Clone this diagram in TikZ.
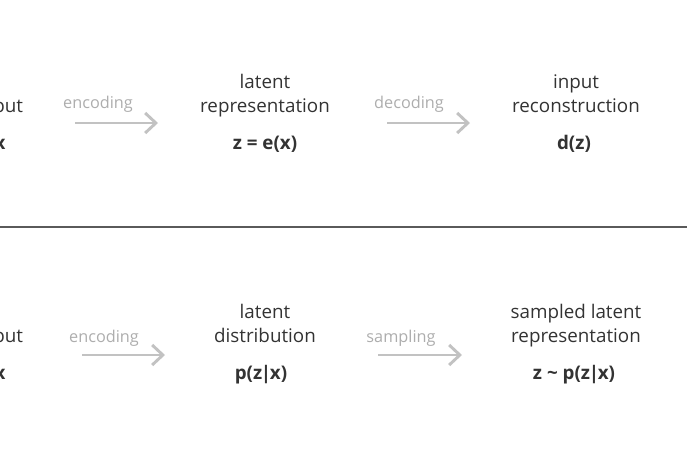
\documentclass[tikz,border=0pt]{standalone}
\usepackage{fontspec}
\setmainfont{Open Sans}
\usetikzlibrary{arrows.meta}
\definecolor{ink}{HTML}{333333}
\definecolor{faint}{HTML}{ADADAD}
\definecolor{shaft}{HTML}{C2C2C2}
\definecolor{rule}{HTML}{5A5A5A}

\begin{document}
\begin{tikzpicture}[x=0.75pt,y=-0.75pt,
  word/.style={text=ink,anchor=base,inner sep=0pt,font=\fontsize{14.1}{17}\selectfont},
  expr/.style={word,font=\fontsize{14.1}{17}\selectfont\bfseries},
  verb/.style={text=faint,anchor=base,inner sep=0pt,font=\fontsize{12.2}{15}\selectfont},
  flow/.style={draw=shaft,line width=2.2pt,-{Straight Barb[length=8pt,width=15pt]}}]
\clip (0,0) rectangle (687,455);

% autoencoder
\node[word] (inA) at (0,112) {input};
\node[expr] (xA) at (0,149) {x};
\node[word] (latA) at (265,88) {latent};
\node[word] (repA) at (265,112) {representation};
\node[expr] (zA) at (265,149) {z = e(x)};
\node[word] (recA) at (576,88) {input};
\node[word] (recB) at (576,112) {reconstruction};
\node[expr] (dA) at (574,149) {d(z)};
\node[verb] (encA) at (98,108) {encoding};
\node[verb] (decA) at (409,108) {decoding};
\coordinate (e1) at (75,123);
\coordinate (e2) at (158,123);
\coordinate (d1) at (387,123);
\coordinate (d2) at (470,123);
\path[flow] (e1) -- (e2);
\path[flow] (d1) -- (d2);

% divider
\coordinate (l1) at (0,227);
\coordinate (l2) at (687,227);
\draw[rule,line width=1.5pt] (l1) -- (l2);

% variational autoencoder
\node[word] (inB) at (0,342) {input};
\node[expr] (xB) at (0,379) {x};
\node[word] (latB) at (265,318) {latent};
\node[word] (disB) at (265,342) {distribution};
\node[expr] (pB) at (261,379) {p(z\kern-1pt|\kern-1pt x)};
\node[expr] (zB) at (574,379) {z \textasciitilde{} p(z\kern-1pt|\kern-1pt x)};
\node[word] (smpB) at (576,318) {sampled latent};
\node[word] (repB) at (576,342) {representation};
\node[verb] (encB) at (104,342) {encoding};
\node[verb] (samB) at (401,342) {sampling};
\coordinate (f1) at (82,355);
\coordinate (f2) at (165,355);
\coordinate (s1) at (378,355);
\coordinate (s2) at (462,355);
\path[flow] (f1) -- (f2);
\path[flow] (s1) -- (s2);
\end{tikzpicture}
\end{document}
